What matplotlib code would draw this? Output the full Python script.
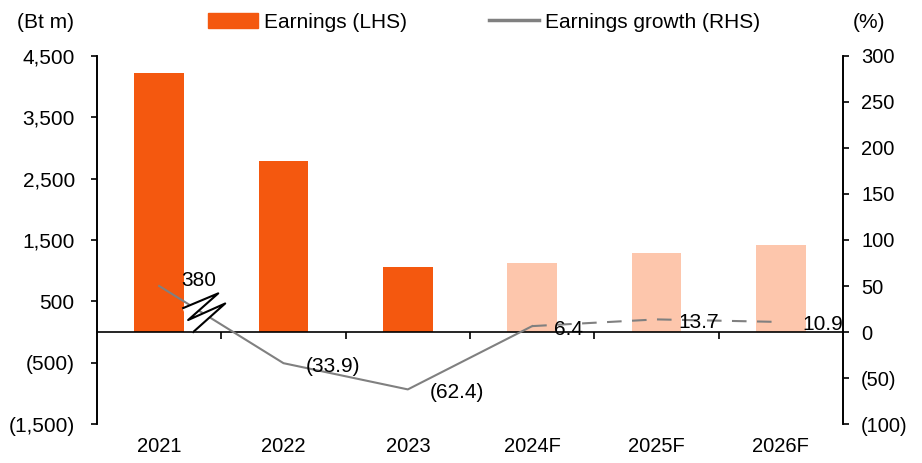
import matplotlib.pyplot as plt
from matplotlib.patches import Patch
from matplotlib.lines import Line2D

plt.rcParams['font.family'] = ['Liberation Sans', 'DejaVu Sans']
plt.rcParams['font.size'] = 15

years = ["2021", "2022", "2023", "2024F", "2025F", "2026F"]
earnings = [4230, 2790, 1060, 1120, 1285, 1415]
forecast = [False, False, False, True, True, True]
growth = [380, -33.9, -62.4, 6.4, 13.7, 10.9]
growth_labels = ["380", "(33.9)", "(62.4)", "6.4", "13.7", "10.9"]
growth_cap = 50  # 2021 value is off the scale, drawn broken at this level

left_ticks = [-1500, -500, 500, 1500, 2500, 3500, 4500]
right_ticks = [-100, -50, 0, 50, 100, 150, 200, 250, 300]

dark = "#F4580F"
light = "#FDC6AC"
grey = "#808080"


def paren(v):
    return f"({abs(v):,.0f})" if v < 0 else f"{v:,.0f}"


fig = plt.figure(figsize=(9.22, 4.63), dpi=100)
ax = fig.add_axes([97 / 922, 39 / 463, 746 / 922, 368 / 463])
ax2 = ax.twinx()

x = list(range(len(years)))
colors = [light if f else dark for f in forecast]
ax.bar(x, earnings, width=0.4, color=colors, zorder=2)

ax.set_xlim(-0.5, len(years) - 0.5)
ax.set_ylim(-1500, 4500)
ax.set_yticks(left_ticks)
ax.set_yticklabels([paren(v) for v in left_ticks])
ax2.set_ylim(-100, 300)
ax2.set_yticks(right_ticks)
ax2.set_yticklabels([paren(v) for v in right_ticks])

for a in (ax, ax2):
    a.spines['top'].set_visible(False)
    for s in ('left', 'right', 'bottom'):
        a.spines[s].set_linewidth(1.2)
ax2.spines['bottom'].set_visible(False)
ax.spines['bottom'].set_position(('data', 0))
ax.spines['bottom'].set_zorder(5)
ax.tick_params(axis='y', length=4, width=1.2, pad=12, labelsize=15)
ax2.tick_params(axis='y', length=4, width=1.2, pad=9, labelsize=14.5)
ax.set_xticks([i + 0.5 for i in x[:-1]])
ax.set_xticklabels([])
ax.tick_params(axis='x', length=5, width=1.2, direction='out')

for i, y in enumerate(years):
    ax.text(i, -0.062, y, transform=ax.get_xaxis_transform(),
            ha='center', va='center', fontsize=14.5)

# growth line: solid for actuals, dashed for forecasts
plotted = [min(g, growth_cap) for g in growth]
n_act = sum(1 for f in forecast if not f)
ax2.plot(x[:n_act + 1], plotted[:n_act + 1], color=grey, lw=1.5, zorder=3)
ax2.plot(x[n_act:], plotted[n_act:], color=grey, lw=1.5, ls=(0, (7, 5)), zorder=3)

for i, (v, lab) in enumerate(zip(plotted, growth_labels)):
    dy = 5 if i == 0 else -3
    ax2.annotate(lab, (i, v), xytext=(22, dy), textcoords='offset pixels',
                 ha='left', va='center', zorder=6)

# scale-break squiggle next to the 2021 point
zx = [0.193, 0.475, 0.233, 0.531, 0.274]
zy = [26, 42, 13, 31, 0]
ax2.fill(zx, zy, color='white', zorder=4)
ax2.plot(zx, zy, color='black', lw=1.5, zorder=5, solid_joinstyle='round')

fig.text(17 / 922, 1 - 22 / 463, "(Bt m)", ha='left', va='center')
fig.text(869 / 922, 1 - 22 / 463, "(%)", ha='center', va='center')

handles = [Patch(color=dark), Line2D([], [], color=grey, lw=2.5)]
fig.legend(handles, ["Earnings (LHS)", "Earnings growth (RHS)"],
           loc='center', bbox_to_anchor=(484 / 922, 1 - 22 / 463), ncol=2,
           frameon=False, fontsize=15, handlelength=2.4, handletextpad=0.3,
           columnspacing=3.9, borderaxespad=0, borderpad=0)

fig.savefig("out.png", dpi=100)
